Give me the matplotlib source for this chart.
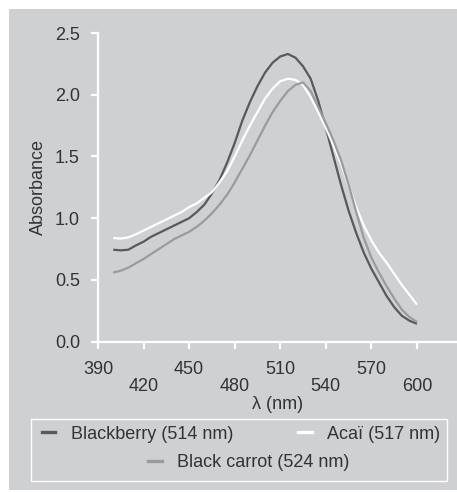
import matplotlib
matplotlib.use("Agg")
import matplotlib.pyplot as plt
from matplotlib.lines import Line2D
from matplotlib.patches import Rectangle

plt.rcParams['font.family'] = ['Liberation Sans', 'DejaVu Sans']

wavelength = [400, 405, 410, 415, 420, 425, 430, 435, 440, 445, 450, 455, 460, 465, 470,
              475, 480, 485, 490, 495, 500, 505, 510, 515, 520, 525, 530, 535, 540, 545,
              550, 555, 560, 565, 570, 575, 580, 585, 590, 595, 600]

blackberry = [0.745, 0.74, 0.745, 0.78, 0.81, 0.85, 0.88, 0.91, 0.94, 0.97, 1.00, 1.05, 1.11,
              1.20, 1.31, 1.45, 1.61, 1.79, 1.94, 2.07, 2.18, 2.26, 2.31, 2.33, 2.30, 2.23,
              2.13, 1.95, 1.73, 1.50, 1.27, 1.06, 0.88, 0.72, 0.59, 0.48, 0.37, 0.28, 0.21,
              0.17, 0.145]

acai = [0.84, 0.835, 0.845, 0.87, 0.90, 0.93, 0.96, 0.99, 1.02, 1.05, 1.09, 1.12, 1.165,
        1.21, 1.29, 1.38, 1.50, 1.63, 1.75, 1.86, 1.97, 2.05, 2.11, 2.13, 2.12, 2.08,
        1.98, 1.86, 1.73, 1.59, 1.44, 1.26, 1.09, 0.94, 0.82, 0.72, 0.64, 0.55, 0.46,
        0.38, 0.30]

black_carrot = [0.56, 0.575, 0.60, 0.635, 0.67, 0.71, 0.75, 0.79, 0.83, 0.86, 0.89, 0.93,
                0.98, 1.04, 1.11, 1.19, 1.29, 1.40, 1.51, 1.63, 1.75, 1.86, 1.95, 2.03, 2.08,
                2.10, 2.03, 1.90, 1.77, 1.63, 1.47, 1.27, 1.05, 0.84, 0.68, 0.56, 0.45, 0.35,
                0.26, 0.20, 0.16]

series_labels = ["Blackberry (514 nm)", "Acaï (517 nm)", "Black carrot (524 nm)"]
colors = ["#58595b", "#ffffff", "#9a9b9d"]

x_major = [390, 450, 510, 570]
x_minor = [420, 480, 540, 600]
y_ticks = [0.0, 0.5, 1.0, 1.5, 2.0, 2.5]

W, H = 457, 492
fig = plt.figure(figsize=(W / 100, H / 100), dpi=100)
fig.patch.set_facecolor("white")

panel = "#cfd0d2"
fig.patches.append(Rectangle((9 / W, 1 - 490 / H), (W - 9) / W, (490 - 9) / H,
                             transform=fig.transFigure, facecolor=panel,
                             edgecolor="none", zorder=-5))

ax = fig.add_axes([98 / W, 1 - 341.7 / H, (W - 98) / W, 308.7 / H])
ax.set_facecolor("none")
ax.set_zorder(2)

lines = []
for vals, c in zip([blackberry, acai, black_carrot], colors):
    ln, = ax.plot(wavelength, vals, color=c, lw=1.6, solid_capstyle="butt",
                  solid_joinstyle="round")
    lines.append(ln)

ax.set_xlim(390, 390 + (W - 98) / 1.519)
ax.set_ylim(0, 2.5)
for s in ["top", "right"]:
    ax.spines[s].set_visible(False)
for s in ["left", "bottom"]:
    ax.spines[s].set_color("white")
    ax.spines[s].set_linewidth(1.6)

ax.set_xticks(x_major)
ax.set_xticks(x_minor, minor=True)
ax.set_xticklabels([str(v) for v in x_major])
ax.set_xticklabels([str(v) for v in x_minor], minor=True)
ax.set_yticks(y_ticks)
ax.set_yticklabels([f"{v:.1f}" for v in y_ticks])

ax.tick_params(axis="x", which="major", length=5, width=1.6, color="white",
               labelsize=13, labelcolor="#333333", pad=9)
ax.tick_params(axis="x", which="minor", length=5, width=1.6, color="white",
               labelsize=13, labelcolor="#333333", pad=21)
ax.tick_params(axis="y", length=5, width=1.6, color="white",
               labelsize=13, labelcolor="#333333", pad=8)

ax.set_xlabel("λ (nm)", fontsize=13, color="#333333", labelpad=1)
ax.set_ylabel("Absorbance", fontsize=13, color="#333333", labelpad=6)

# legend box
fig.patches.append(Rectangle((30.7 / W, 1 - 480.7 / H), (446.7 - 30.7) / W, (480.7 - 419.3) / H,
                             transform=fig.transFigure, facecolor="none",
                             edgecolor="white", lw=1.0, zorder=3))

entries = [(42, 55, 70.7, 432.3), (298, 312, 326.7, 432.3), (148, 162, 177, 460.7)]
for (hx0, hx1, tx, ty), ln, lab in zip(entries, lines, series_labels):
    fig.add_artist(Line2D([hx0 / W, hx1 / W], [1 - ty / H, 1 - ty / H],
                          transform=fig.transFigure, color=ln.get_color(), lw=2.4))
    fig.text(tx / W, 1 - ty / H, lab, fontsize=13, color="#333333",
             ha="left", va="center_baseline")

fig.savefig("out.png", dpi=100)
